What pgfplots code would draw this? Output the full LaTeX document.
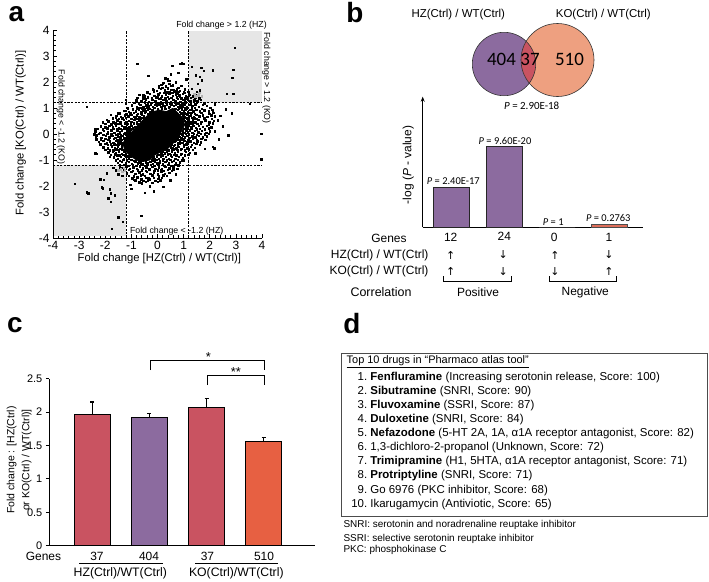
\documentclass[border=0pt]{standalone}
\usepackage{pgfplots}
\pgfplotsset{compat=1.18}
\usetikzlibrary{arrows.meta}
\usepackage{fontspec}
\setmainfont{Liberation Sans}
\newfontfamily\calibri{Carlito}
\newfontfamily\dejavu{DejaVu Sans}
\definecolor{vpurple}{RGB}{140,107,159}
\definecolor{vsalmon}{RGB}{238,160,128}
\definecolor{vred}{RGB}{201,83,97}
\definecolor{corange}{RGB}{231,96,66}
\definecolor{bred}{RGB}{222,110,90}
\definecolor{shade}{RGB}{230,230,230}
\newcommand{\fs}[1]{\fontsize{#1}{#1}\selectfont}
\begin{document}
\begin{tikzpicture}
\path[use as bounding box] (0,0) rectangle (709bp,-582bp);

%%%%%%%%%%%%%%%% Panel a
\begin{axis}[
  at={(53bp,-238bp)}, anchor=south west, scale only axis,
  width=209bp, height=208bp,
  xmin=-4,xmax=4,ymin=-4,ymax=4,
  axis x line*=bottom, axis y line*=left,
  axis line style={line width=0.9pt},
  tick align=inside,
  xtick={-4,...,4}, ytick={-4,...,4},
  xticklabels={-4,-3,-2,-1,0,1,2,3,4},
  yticklabels={-4,-3,-2,-1,0,1,2,3,4},
  minor tick num=4,
  major tick length=4bp, minor tick length=2.6bp,
  tick style={black, line width=0.7pt},
  ticklabel style={font=\fs{12}},
  clip=false,
]
\addplot[fill=shade, draw=none] coordinates {(1.2,1.2)(4,1.2)(4,3.95)(1.2,3.95)} -- cycle;
\addplot[fill=shade, draw=none] coordinates {(-3.97,-3.93)(-1.2,-3.93)(-1.2,-1.2)(-3.97,-1.2)} -- cycle;
% dense core
\addplot[fill=black, draw=black, line width=0.8pt] coordinates {
(-1.32,-0.36)(-1.19,-0.10)(-1.00,0.06)(-0.81,0.28)(-0.62,0.47)(-0.43,0.67)(-0.17,0.86)(0.08,0.92)(0.34,0.86)(0.59,0.99)(0.79,0.80)(0.98,0.60)(1.04,0.35)(0.91,0.09)(0.79,-0.17)(0.59,-0.36)(0.40,-0.55)(0.15,-0.68)(-0.11,-0.81)(-0.30,-1.00)(-0.56,-1.06)(-0.81,-1.00)(-1.07,-0.81)(-1.26,-0.62)} -- cycle;
% scattered genes
\addplot[only marks, mark=square*, mark size=0.72bp, black] coordinates {
(0.15,1.9)(0.32,1.84)(0.45,1.93)(0.58,1.87)(0.24,1.97)(0.05,1.86)
(-0.18,1.72)(-0.02,1.66)(0.12,1.74)(0.27,1.68)(0.38,1.76)(0.52,1.7)(0.63,1.64)(0.74,1.73)(0.86,1.67)(0.45,1.62)
(-0.7,1.52)(-0.48,1.46)(-0.3,1.55)(-0.12,1.48)(0.02,1.53)(0.17,1.45)(0.31,1.51)(0.44,1.56)(0.58,1.47)(0.7,1.53)(0.83,1.49)(0.97,1.55)(1.08,1.46)(1.22,1.52)(1.34,1.48)(0.25,1.58)(-0.05,1.42)
(-0.82,1.3)(-0.62,1.27)(-0.45,1.34)(-0.33,1.25)(-0.21,1.32)(-0.08,1.28)(0.04,1.35)(0.13,1.24)(0.22,1.31)(0.34,1.27)(0.42,1.36)(0.51,1.25)(0.6,1.32)(0.69,1.28)(0.78,1.35)(0.87,1.24)(0.96,1.31)(1.05,1.27)(1.16,1.34)(1.27,1.26)(1.39,1.32)(1.52,1.28)(1.65,1.33)(0.29,1.38)(0.65,1.22)
(-0.98,1.1)(-0.8,1.06)(-0.66,1.13)(-0.55,1.04)(-0.44,1.11)(-0.36,1.07)(-0.27,1.15)(-0.18,1.05)(-0.1,1.12)(-0.02,1.08)(0.06,1.15)(0.14,1.04)(0.2,1.11)(0.28,1.07)(0.36,1.14)(0.44,1.05)(0.52,1.12)(0.61,1.08)(0.7,1.15)(0.78,1.04)(0.86,1.11)(0.94,1.07)(1.03,1.14)(1.12,1.05)(1.22,1.12)(1.33,1.08)(1.45,1.14)(1.58,1.06)(1.72,1.12)(1.88,1.08)(0.1,1.19)(0.46,1.18)(0.8,1.19)
(-1.28,0.9)(-1.1,0.86)(-0.95,0.93)(-0.84,0.88)(-0.72,0.95)(-0.63,0.85)(-0.54,0.92)(-0.45,0.87)(-0.37,0.94)(-0.28,0.86)(-0.2,0.91)(-0.5,0.98)(-0.78,1.0)
(0.78,0.93)(0.85,0.86)(0.92,0.95)(1.0,0.88)(1.08,0.93)(1.16,0.86)(1.25,0.94)(1.36,0.88)(1.48,0.93)(1.62,0.87)(1.78,0.92)(1.95,0.88)(2.1,0.93)(0.82,0.99)(1.05,1.0)(1.3,0.99)
(-1.58,0.7)(-1.4,0.66)(-1.25,0.73)(-1.12,0.68)(-1.0,0.75)(-0.9,0.66)(-0.8,0.72)(-0.7,0.67)(-0.6,0.74)(-0.52,0.68)(-1.05,0.8)(-0.75,0.79)
(0.98,0.72)(1.05,0.66)(1.12,0.74)(1.2,0.68)(1.28,0.73)(1.38,0.66)(1.48,0.75)(1.6,0.69)(1.74,0.73)(1.9,0.67)(2.06,0.72)(2.18,0.68)(1.02,0.8)(1.3,0.81)
(-1.88,0.5)(-1.7,0.46)(-1.55,0.53)(-1.42,0.47)(-1.3,0.54)(-1.2,0.45)(-1.1,0.52)(-1.0,0.47)(-0.9,0.55)(-0.8,0.46)(-0.7,0.52)(-0.64,0.58)(-1.35,0.6)
(1.04,0.52)(1.1,0.45)(1.17,0.54)(1.25,0.47)(1.34,0.53)(1.44,0.46)(1.55,0.55)(1.68,0.48)(1.82,0.53)(1.98,0.46)(2.15,0.52)(1.12,0.6)(1.4,0.6)
(-2.18,0.3)(-2.0,0.26)(-1.85,0.33)(-1.72,0.27)(-1.6,0.34)(-1.48,0.25)(-1.38,0.32)(-1.28,0.27)(-1.18,0.35)(-1.08,0.26)(-0.98,0.32)(-0.88,0.28)(-1.5,0.4)(-1.15,0.4)
(1.08,0.3)(1.14,0.26)(1.2,0.34)(1.28,0.27)(1.37,0.33)(1.47,0.25)(1.58,0.32)(1.72,0.28)(1.88,0.33)(2.05,0.27)(1.25,0.4)
(-2.38,0.1)(-2.2,0.06)(-2.05,0.13)(-1.9,0.07)(-1.78,0.14)(-1.66,0.05)(-1.55,0.12)(-1.45,0.07)(-1.36,0.14)(-1.26,0.05)(-1.16,0.12)(-1.06,0.07)(-1.7,0.2)(-1.3,0.2)(-1.1,0.18)
(0.96,0.1)(1.02,0.05)(1.09,0.13)(1.16,0.07)(1.24,0.14)(1.33,0.05)(1.43,0.12)(1.55,0.07)(1.7,0.13)(1.86,0.06)(2.0,0.11)(1.0,0.2)
(-2.36,-0.1)(-2.15,-0.14)(-1.98,-0.07)(-1.85,-0.13)(-1.73,-0.06)(-1.62,-0.15)(-1.52,-0.08)(-1.43,-0.13)(-1.35,-0.06)(-1.27,-0.14)(-1.22,-0.02)(-1.6,-0.02)
(0.84,-0.1)(0.9,-0.14)(0.97,-0.06)(1.05,-0.13)(1.13,-0.07)(1.22,-0.15)(1.32,-0.08)(1.44,-0.13)(1.58,-0.06)(1.74,-0.12)(1.88,-0.08)(0.92,0.0)
(-2.26,-0.3)(-2.08,-0.26)(-1.94,-0.33)(-1.82,-0.27)(-1.7,-0.34)(-1.6,-0.25)(-1.5,-0.32)(-1.42,-0.27)(-1.35,-0.35)(-1.8,-0.4)(-1.5,-0.42)
(0.64,-0.3)(0.7,-0.26)(0.77,-0.33)(0.85,-0.27)(0.94,-0.34)(1.03,-0.25)(1.13,-0.32)(1.25,-0.28)(1.38,-0.34)(1.52,-0.27)(1.66,-0.31)(0.72,-0.2)(0.9,-0.2)
(-2.08,-0.5)(-1.9,-0.54)(-1.76,-0.47)(-1.64,-0.55)(-1.53,-0.48)(-1.44,-0.56)(-1.36,-0.49)(-1.7,-0.62)
(0.5,-0.5)(0.56,-0.54)(0.63,-0.46)(0.71,-0.55)(0.8,-0.48)(0.9,-0.56)(1.01,-0.47)(1.14,-0.55)(1.28,-0.49)(1.42,-0.53)(0.55,-0.42)(0.78,-0.4)
(-1.88,-0.7)(-1.72,-0.66)(-1.6,-0.74)(-1.48,-0.67)(-1.38,-0.75)(-1.28,-0.66)(-1.22,-0.78)(-1.55,-0.82)
(0.14,-0.7)(0.2,-0.66)(0.27,-0.74)(0.35,-0.67)(0.44,-0.75)(0.54,-0.66)(0.65,-0.73)(0.78,-0.68)(0.92,-0.75)(1.08,-0.67)(1.24,-0.72)(0.3,-0.6)(0.12,-0.78)
(-1.68,-0.9)(-1.52,-0.94)(-1.4,-0.87)(-1.3,-0.95)(-1.2,-0.88)(-1.1,-0.96)(-1.04,-0.86)
(-0.16,-0.9)(-0.1,-0.95)(-0.03,-0.86)(0.05,-0.94)(0.13,-0.87)(0.22,-0.95)(0.32,-0.88)(0.43,-0.96)(0.55,-0.87)(0.68,-0.94)(0.82,-0.88)(0.97,-0.93)(0.0,-0.8)(-0.12,-1.0)
(-1.52,-1.1)(-1.36,-1.06)(-1.22,-1.13)(-1.1,-1.07)(-0.98,-1.14)(-0.86,-1.05)(-0.76,-1.12)(-0.66,-1.08)(-0.56,-1.15)(-0.46,-1.05)(-0.37,-1.12)(-0.28,-1.07)(-0.19,-1.14)(-0.1,-1.05)(-0.01,-1.12)(0.09,-1.08)(0.19,-1.15)(0.3,-1.06)(0.42,-1.12)(0.55,-1.07)(0.7,-1.13)(0.86,-1.08)(-0.7,-1.0)(-0.4,-1.19)(0.2,-1.0)
(-1.36,-1.3)(-1.2,-1.26)(-1.06,-1.33)(-0.93,-1.27)(-0.8,-1.34)(-0.68,-1.25)(-0.56,-1.32)(-0.44,-1.27)(-0.32,-1.35)(-0.2,-1.26)(-0.08,-1.33)(0.04,-1.27)(0.16,-1.34)(0.3,-1.26)(0.45,-1.32)(0.6,-1.28)(0.75,-1.33)(-0.6,-1.4)(0.0,-1.4)
(-1.18,-1.5)(-1.0,-1.46)(-0.85,-1.53)(-0.7,-1.47)(-0.56,-1.55)(-0.42,-1.46)(-0.28,-1.52)(-0.14,-1.48)(0.0,-1.55)(0.14,-1.46)(0.28,-1.53)(0.44,-1.48)
(-0.96,-1.7)(-0.78,-1.66)(-0.62,-1.73)(-0.46,-1.67)(-0.3,-1.74)(-0.14,-1.68)(0.02,-1.72)(0.16,-1.67)
(-0.7,-1.86)(-0.45,-1.83)(-0.2,-1.88)(0.0,-1.84)
(-0.4,1.6)(-0.15,1.62)(0.08,1.58)(0.36,1.61)(0.56,1.59)(0.79,1.62)(1.02,1.58)(1.18,1.63)
(-0.78,1.4)(-0.55,1.38)(-0.38,1.42)(-0.22,1.39)(-0.01,1.41)(0.12,1.37)(0.38,1.43)(0.53,1.39)(0.73,1.42)(0.91,1.38)(1.12,1.41)(1.28,1.39)(1.45,1.42)(1.58,1.37)
(-0.9,1.2)(-0.72,1.18)(-0.5,1.22)(-0.38,1.19)(-0.22,1.21)(-0.05,1.18)(0.18,1.2)(0.32,1.22)(0.55,1.19)(0.72,1.21)(0.92,1.18)(1.08,1.22)(1.28,1.19)(1.5,1.21)(1.78,1.18)
(-1.15,1.0)(-0.95,0.98)(-0.7,1.02)(-0.58,0.99)(-0.4,1.01)(-0.3,0.97)(-0.12,1.02)(0.0,0.98)(0.16,1.0)(0.3,0.97)(0.42,1.01)(0.68,0.98)(0.9,1.02)(1.12,0.97)(1.42,1.01)(1.7,0.98)(2.02,1.01)
(-1.45,0.8)(-1.2,0.78)(-0.92,0.82)(-0.62,0.79)(-0.48,0.81)(-0.35,0.78)(-0.25,0.82)(0.88,0.79)(0.95,0.82)(1.1,0.78)(1.22,0.82)(1.42,0.79)(1.68,0.81)(1.98,0.78)(2.14,0.82)
(-1.72,0.6)(-1.48,0.58)(-1.22,0.62)(-1.0,0.59)(-0.86,0.61)(-0.74,0.58)(-0.58,0.62)(1.0,0.6)(1.06,0.63)(1.2,0.58)(1.32,0.62)(1.5,0.59)(1.78,0.61)(2.08,0.58)
(-2.0,0.4)(-1.78,0.38)(-1.62,0.42)(-1.4,0.39)(-1.25,0.41)(-1.02,0.38)(-0.92,0.42)(-0.78,0.39)(1.08,0.4)(1.16,0.38)(1.32,0.42)(1.52,0.39)(1.65,0.41)(1.95,0.38)(2.12,0.42)
(-2.3,0.2)(-2.1,0.18)(-1.92,0.22)(-1.55,0.19)(-1.42,0.21)(-1.2,0.22)(-1.02,0.19)(-0.95,0.22)(1.02,0.21)(1.12,0.18)(1.3,0.22)(1.5,0.19)(1.62,0.21)(1.8,0.18)(1.95,0.22)
(-2.42,0.0)(-2.25,0.02)(-2.08,-0.02)(-1.92,0.01)(-1.78,-0.01)(-1.5,0.02)(-1.4,-0.02)(-1.3,0.01)(-1.2,-0.01)(-1.15,0.03)(0.88,0.01)(0.97,-0.02)(1.08,0.02)(1.2,-0.01)(1.38,0.02)(1.5,-0.02)(1.65,0.01)(1.8,-0.01)(1.95,0.02)
(-2.35,-0.2)(-2.18,-0.22)(-2.0,-0.18)(-1.88,-0.21)(-1.68,-0.19)(-1.55,-0.22)(-1.45,-0.18)(-1.38,-0.21)(-1.28,-0.19)(0.75,-0.2)(0.82,-0.22)(1.0,-0.18)(1.18,-0.22)(1.35,-0.19)(1.5,-0.21)(1.68,-0.18)(1.82,-0.22)
(-2.2,-0.4)(-2.0,-0.38)(-1.9,-0.42)(-1.65,-0.39)(-1.58,-0.41)(-1.42,-0.38)(-1.36,-0.42)(0.55,-0.4)(0.65,-0.42)(0.85,-0.38)(1.0,-0.41)(1.1,-0.39)(1.3,-0.42)(1.48,-0.38)(1.62,-0.41)
(-2.0,-0.6)(-1.82,-0.62)(-1.58,-0.58)(-1.48,-0.61)(-1.38,-0.59)(-1.3,-0.62)(0.35,-0.6)(0.42,-0.62)(0.6,-0.58)(0.75,-0.61)(0.88,-0.59)(1.05,-0.62)(1.2,-0.58)(1.35,-0.6)
(-1.8,-0.8)(-1.62,-0.78)(-1.45,-0.82)(-1.32,-0.79)(-1.25,-0.81)(-1.12,-0.85)(0.05,-0.8)(0.2,-0.82)(0.38,-0.78)(0.5,-0.81)(0.62,-0.79)(0.72,-0.82)(0.88,-0.78)(1.05,-0.81)(1.18,-0.79)
(-1.6,-1.0)(-1.45,-1.02)(-1.32,-0.98)(-1.18,-1.01)(-1.0,-0.99)(-0.9,-1.02)(-0.45,-1.1)(-0.2,-1.0)(-0.05,-0.98)(0.08,-1.02)(0.35,-1.01)(0.48,-0.98)(0.62,-1.02)(0.78,-0.99)(0.92,-1.01)
(-1.45,-1.2)(-1.3,-1.18)(-1.12,-1.22)(-0.95,-1.19)(-0.82,-1.21)(-0.62,-1.18)(-0.48,-1.22)(-0.25,-1.19)(-0.12,-1.21)(0.05,-1.18)(0.25,-1.22)(0.38,-1.19)(0.52,-1.21)(0.65,-1.18)(0.8,-1.22)
(-1.3,-1.4)(-1.1,-1.38)(-0.95,-1.42)(-0.75,-1.39)(-0.45,-1.41)(-0.3,-1.38)(-0.12,-1.42)(0.12,-1.39)(0.22,-1.41)(0.38,-1.38)(0.55,-1.42)
(-1.1,-1.6)(-0.92,-1.62)(-0.65,-1.58)(-0.48,-1.61)(-0.2,-1.59)(0.05,-1.62)(0.22,-1.58)(0.35,-1.61)
(-0.85,-1.78)(-0.55,-1.8)(-0.38,-1.77)(-0.08,-1.79)(0.1,-1.76)
(2.95,3.32)(2.89,2.48)(2.86,2.16)(2.89,1.56)(2.64,1.56)(2.12,2.46)(1.77,2.43)(1.67,2.55)(1.47,2.27)(1.61,2.2)(1.69,2.07)(1.53,1.94)(1.61,1.69)(1.46,1.5)(1.61,1.37)(1.31,2.59)(1.4,1.3)(1.5,1.62)(1.3,1.75)(1.35,1.45)(1.25,1.28)
(-0.78,2.71)(-0.36,2.24)(0.3,2.14)(0.4,2.07)(0.57,2.62)(0.85,2.71)(0.98,2.71)(0.54,2.62)(0.93,2.72)(0.37,2.12)(0.44,2.06)(0.18,1.79)(0.5,1.85)(0.67,1.65)(0.8,1.78)(0.86,1.46)(1.0,1.6)(1.06,1.37)(1.19,1.5)(-0.17,1.71)(0.05,1.8)(0.6,1.7)(0.75,1.55)(0.2,1.95)(0.7,2.0)(0.9,1.85)(1.05,1.72)(1.2,1.58)(1.1,2.1)(0.5,2.3)(0.8,2.35)(-0.55,1.5)(-0.9,1.2)(-1.22,1.33)(-1.22,1.17)(-1.5,0.8)
(2.03,0.28)(2.12,0.85)(2.31,0.53)(1.80,-0.56)(2.12,-0.49)(2.17,-0.55)(2.71,-0.04)(2.84,0.8)(3.53,1.17)(3.97,0.02)(3.97,-0.97)(1.44,-0.74)(2.2,1.15)(2.4,0.7)(2.6,0.95)(2.2,0.1)(2.5,0.3)(2.35,-0.2)
(0.22,-2.03)(0.48,-1.77)(0.6,-1.35)(-0.35,-1.7)(-0.9,-1.75)(-0.6,-1.9)(-0.3,-2.0)(-1.05,-1.95)(-0.63,-3.14)(0.8,-1.2)(1.0,-1.0)(0.1,-1.8)(-0.15,-2.2)(-0.5,-2.25)(-1.0,-2.1)(0.7,-1.55)
(-1.83,-0.88)(-2.21,-0.37)(-2.34,-0.75)(-2.34,0.21)(-2.32,-0.04)(-2.40,0.20)(-2.72,1.05)(-1.95,0.55)(-2.33,-0.17)(-2.39,-0.74)(-1.6,0.65)(-1.8,0.75)(-2.1,0.45)
(-3.16,-1.92)(-2.71,-2.24)(-2.65,-2.28)(-2.14,-2.05)(-2.1,-2.09)(-2.2,-1.73)(-2.05,-1.75)(-1.94,-1.51)(-1.82,-2.13)(-1.8,-2.28)(-1.88,-2.47)(-1.8,-2.6)(-1.63,-2.35)(-1.5,-3.2)(-1.33,-3.37)(-1.75,-3.65)(-1.6,-1.4)(-1.45,-1.3)(-1.5,-1.55)(-1.35,-1.6)(-1.7,-1.3)
};
\addplot[only marks, mark=square*, mark size=0.72bp, gray!60] coordinates {
(1.45,1.45)(1.55,1.5)(1.6,1.58)(1.4,1.55)(1.7,1.45)(-1.3,-1.3)(-1.4,-1.35)(-1.35,-1.45)(-1.25,-1.4)(-1.5,-1.4)};
% thresholds
\addplot[black, line width=0.9pt, dash pattern=on 2.2pt off 1.4pt] coordinates {(-4,1.2)(4,1.2)};
\addplot[black, line width=0.9pt, dash pattern=on 2.2pt off 1.4pt] coordinates {(-4,-1.2)(4,-1.2)};
\addplot[black, line width=0.9pt, dash pattern=on 2.2pt off 1.4pt] coordinates {(1.2,-4)(1.2,4)};
\addplot[black, line width=0.9pt, dash pattern=on 2.2pt off 1.4pt] coordinates {(-1.2,-4)(-1.2,4)};
\end{axis}

%%%%%%%%%%%%%%%% Panel b Venn
\begin{axis}[at={(440bp,-110bp)}, anchor=south west, scale only axis,
  width=180bp, height=100bp, xmin=440, xmax=620, ymin=-110, ymax=-10,
  hide axis, clip=false]
\fill[vpurple] (axis cs:504,-64) circle[radius=31.7bp];
\fill[vsalmon] (axis cs:557.5,-60) circle[radius=36.5bp];
\begin{scope}
\clip (axis cs:504,-64) circle[radius=31.7bp];
\fill[vred] (axis cs:557.5,-60) circle[radius=36.5bp];
\end{scope}
\draw[black!80, line width=0.6pt] (axis cs:504,-64) circle[radius=31.7bp];
\draw[black!80, line width=0.6pt] (axis cs:557.5,-60) circle[radius=36.5bp];
\end{axis}

%%%%%%%%%%%%%%%% Panel b bars
\begin{axis}[at={(422.7bp,-227.3bp)}, anchor=south west, scale only axis,
  width=220bp, height=130.6bp, xmin=422.7, xmax=642.7, ymin=0, ymax=130.6,
  axis x line*=bottom, axis y line=left,
  y axis line style={-{Stealth[length=5bp,width=4bp]}, line width=0.9pt},
  x axis line style={-, line width=0.9pt},
  xtick=\empty, ytick=\empty, clip=false]
\addplot[ybar, bar width=36bp, bar shift=0pt, fill=vpurple, draw=black!85, line width=0.7pt] coordinates {(451,40)(504.7,81.3)(557,0)};
\addplot[ybar, bar width=36bp, bar shift=0pt, fill=bred, draw=black!70, line width=0.7pt] coordinates {(609,3)};
\end{axis}

%%%%%%%%%%%%%%%% Panel c
\begin{axis}[at={(49.3bp,-545.7bp)}, anchor=south west, scale only axis,
  width=265.7bp, height=167.2bp, xmin=0.247, xmax=4.90, ymin=0, ymax=2.5,
  axis x line*=bottom, axis y line*=left,
  axis line style={line width=0.9pt},
  xtick=\empty, ytick={0,0.5,1,1.5,2,2.5},
  yticklabels={0,0.5,1,1.5,2,2.5},
  tick align=outside, major tick length=3.5bp,
  tick style={black, line width=0.8pt},
  ticklabel style={font=\fs{11}},
  clip=false,
  error bars/y dir=plus, error bars/y explicit,
  error bars/error bar style={line width=1.1pt, black},
  error bars/error mark options={rotate=90, mark size=2bp, line width=1.1pt, black}]
\addplot[ybar, bar width=36.5bp, bar shift=0pt, fill=vred, draw=black, line width=0.8pt] coordinates {(1,1.964) +- (0,0.185) (3,2.073) +- (0,0.133)};
\addplot[ybar, bar width=36.5bp, bar shift=0pt, fill=vpurple, draw=black, line width=0.8pt] coordinates {(2,1.921) +- (0,0.052)};
\addplot[ybar, bar width=36.5bp, bar shift=0pt, fill=corange, draw=black, line width=0.8pt] coordinates {(4,1.561) +- (0,0.057)};
\end{axis}

\begin{scope}[x=1bp,y=-1bp]
% panel letters
\node[font=\fs{28}\bfseries, inner sep=0pt] at (16.5,14) {a};
\node[font=\fs{28}\bfseries, inner sep=0pt] at (355,13) {b};
\node[font=\fs{28}\bfseries, inner sep=0pt] at (15,325.5) {c};
\node[font=\fs{28}\bfseries, inner sep=0pt] at (352,324) {d};

% panel a text
\node[font=\fs{11.3}] at (159.3,258.3) {Fold change [HZ(Ctrl) / WT(Ctrl)]};
\node[font=\fs{11.3}, rotate=90] at (20.7,133) {Fold change [KO(Ctrl) / WT(Ctrl)]};
\node[font=\fs{8.8}] at (221.5,25) {Fold change > 1.2 (HZ)};
\node[font=\fs{8.8}] at (176.7,231) {Fold change < -1.2 (HZ)};
\node[font=\fs{8.8}, rotate=-90] at (266.5,78) {Fold change > 1.2 (KO)};
\node[font=\fs{8.8}, rotate=-90] at (61,117) {Fold change < -1.2 (KO)};

% panel b venn text
\node[font=\fs{11.5}] at (458.3,15) {HZ(Ctrl) / WT(Ctrl)};
\node[font=\fs{11.5}] at (603.3,15) {KO(Ctrl) / WT(Ctrl)};
\node[font=\calibri\fs{19}] at (501.5,59) {404};
\node[font=\calibri\fs{19}] at (530,59) {37};
\node[font=\calibri\fs{19}] at (569.5,59) {510};
\node[font=\calibri\fs{11}] at (531.7,106) {\textit{P} = 2.90E-18};
% bar labels
\node[font=\calibri\fs{10.5}] at (453.3,180.7) {\textit{P} = 2.40E-17};
\node[font=\calibri\fs{10.5}] at (505,141) {\textit{P} = 9.60E-20};
\node[font=\calibri\fs{10.5}] at (553.3,221.7) {\textit{P} = 1};
\node[font=\calibri\fs{10.5}] at (608.3,217.7) {\textit{P} = 0.2763};
\node[font=\fs{12}, rotate=90] at (408.3,165) {-log (\textit{P} - value)};
% rows
\node[font=\fs{12}] at (389,238) {Genes};
\node[font=\fs{12}] at (450.7,237.7) {12};
\node[font=\fs{12}] at (504.3,236.7) {24};
\node[font=\fs{12}] at (554.3,237.3) {0};
\node[font=\fs{12}] at (609,237.3) {1};
\node[font=\fs{12}, anchor=east] at (432,255) {HZ(Ctrl) / WT(Ctrl)};
\node[font=\fs{12}, anchor=east] at (432,271.7) {KO(Ctrl) / WT(Ctrl)};
\node[font=\fs{12.5}] at (381,291.7) {Correlation};
\node[font=\dejavu\fs{11}] at (450.7,255) {↑};
\node[font=\dejavu\fs{11}] at (503.3,255) {↓};
\node[font=\dejavu\fs{11}] at (555,255) {↑};
\node[font=\dejavu\fs{11}] at (609,255) {↓};
\node[font=\dejavu\fs{11}] at (450.7,271.7) {↑};
\node[font=\dejavu\fs{11}] at (503.3,271.7) {↓};
\node[font=\dejavu\fs{11}] at (555,271.7) {↓};
\node[font=\dejavu\fs{11}] at (609,271.7) {↑};
\draw[line width=0.6pt] (443.3,276) -- (443.3,281.7) -- (511,281.7) -- (511,276);
\draw[line width=0.6pt] (549.3,276) -- (549.3,281.7) -- (616.7,281.7) -- (616.7,276);
\node[font=\fs{12}] at (478,292) {Positive};
\node[font=\fs{12}] at (585.3,292) {Negative};

% panel c text
\node[font=\fs{10.5}, rotate=90] at (11.7,460) {Fold change : [HZ(Ctrl)};
\node[font=\fs{10.5}, rotate=90] at (26.7,460) {or KO(Ctrl) / WT(Ctrl)]};
\draw[line width=0.9pt] (150.5,370) -- (150.5,360) -- (264.3,360) -- (264.3,370);
\draw[line width=0.9pt] (207.7,385) -- (207.7,375) -- (264.3,375) -- (264.3,385);
\node[font=\fs{13}, anchor=base] at (208.3,361.4) {*};
\node[font=\fs{13}, anchor=base] at (236,376.4) {**};
\node[font=\fs{12}] at (43.5,556.5) {Genes};
\node[font=\fs{12}] at (97,556) {37};
\node[font=\fs{12}] at (149,556) {404};
\node[font=\fs{12}] at (207.5,556) {37};
\node[font=\fs{12}] at (264,556) {510};
\draw[line width=0.6pt] (79,563.5) -- (163,563.5);
\draw[line width=0.6pt] (195,563.5) -- (278,563.5);
\node[font=\fs{12.3}] at (120.3,573.3) {HZ(Ctrl)/WT(Ctrl)};
\node[font=\fs{12.3}] at (236.3,573.3) {KO(Ctrl)/WT(Ctrl)};

% panel d
\draw[line width=0.6pt, black!70] (341.7,353.3) rectangle (707.7,516.7);
\node[font=\fs{11}, anchor=west, inner sep=0pt] at (346.5,362) {\underline{Top 10 drugs in “Pharmaco atlas tool”}};
\begin{scope}[every node/.style={font=\fs{11.5}, anchor=west, inner sep=0pt}]
\node at (355,377.3) {\makebox[12bp][r]{1.} \textbf{Fenfluramine} (Increasing serotonin release, Score: 100)};
\node at (355,391.4) {\makebox[12bp][r]{2.} \textbf{Sibutramine} (SNRI, Score: 90)};
\node at (355,405.5) {\makebox[12bp][r]{3.} \textbf{Fluvoxamine} (SSRI, Score: 87)};
\node at (355,419.6) {\makebox[12bp][r]{4.} \textbf{Duloxetine} (SNRI, Score: 84)};
\node at (355,433.7) {\makebox[12bp][r]{5.} \textbf{Nefazodone} (5-HT 2A, 1A, α1A receptor antagonist, Score: 82)};
\node at (355,447.8) {\makebox[12bp][r]{6.} 1,3-dichloro-2-propanol (Unknown, Score: 72)};
\node at (355,461.9) {\makebox[12bp][r]{7.} \textbf{Trimipramine} (H1, 5HTA, α1A receptor antagonist, Score: 71)};
\node at (355,476.0) {\makebox[12bp][r]{8.} \textbf{Protriptyline} (SNRI, Score: 71)};
\node at (355,490.1) {\makebox[12bp][r]{9.} Go 6976 (PKC inhibitor, Score: 68)};
\node at (355,504.2) {\makebox[12bp][r]{10.} Ikarugamycin (Antiviotic, Score: 65)};
\end{scope}
\begin{scope}[every node/.style={font=\fs{10}, anchor=west, inner sep=0pt}]
\node at (343.3,525) {SNRI: serotonin and noradrenaline reuptake inhibitor};
\node at (343.3,538.7) {SSRI: selective serotonin reuptake inhibitor};
\node at (343.3,550) {PKC: phosphokinase C};
\end{scope}
\end{scope}
\end{tikzpicture}
\end{document}
